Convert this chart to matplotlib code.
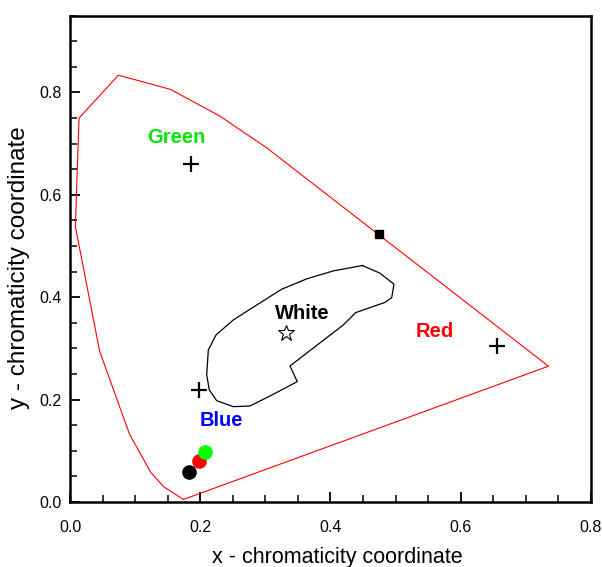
import matplotlib
matplotlib.use('Agg')
import matplotlib.pyplot as plt
from matplotlib.ticker import MultipleLocator

plt.rcParams['font.family'] = ['Liberation Sans', 'DejaVu Sans']

# spectral locus (red outline)
locus_x = [0.1741, 0.1440, 0.1241, 0.0913, 0.0454, 0.0082, 0.0139, 0.0743,
           0.1547, 0.2296, 0.3016, 0.7347, 0.1741]
locus_y = [0.0050, 0.0297, 0.0578, 0.1327, 0.2950, 0.5384, 0.7502, 0.8338,
           0.8059, 0.7543, 0.6923, 0.2653, 0.0050]

# white region contour
white_x = [0.449, 0.476, 0.4975, 0.494, 0.4837, 0.4387, 0.4325, 0.4197,
           0.3378, 0.349, 0.3071, 0.2764, 0.2508, 0.2252, 0.2139, 0.2099,
           0.2124, 0.2242, 0.2508, 0.2764, 0.325, 0.3634, 0.4043, 0.449]
white_y = [0.462, 0.447, 0.4255, 0.3994, 0.390, 0.370, 0.3622, 0.346,
           0.2658, 0.2352, 0.2072, 0.1876, 0.1863, 0.198, 0.219, 0.2482,
           0.2971, 0.3264, 0.3557, 0.3766, 0.4157, 0.4359, 0.4515, 0.462]

# primaries (+)
prim_x = [0.186, 0.198, 0.655]
prim_y = [0.660, 0.219, 0.305]

# white point (star) and black square on locus
star_x, star_y = 0.331, 0.331
square_x, square_y = 0.474, 0.523

# measured dots
dot_x = [0.183, 0.198, 0.207]
dot_y = [0.058, 0.080, 0.097]
dot_colors = ['black', 'red', '#00ff00']

# labels
label_text = ['Green', 'Blue', 'White', 'Red']
label_x = [0.164, 0.232, 0.356, 0.560]
label_y = [0.713, 0.160, 0.369, 0.333]
label_colors = ['#00e600', '#0000ff', 'black', '#ff0000']

fig = plt.figure(figsize=(6.02, 5.67), dpi=100)
ax = fig.add_axes([0.1163, 0.1146, 0.8654, 0.8577])

ax.plot(locus_x, locus_y, color='red', lw=0.8)
ax.plot(white_x, white_y, color='black', lw=0.9)
ax.plot(prim_x, prim_y, ls='none', marker='+', ms=11, mew=1.6, color='black')
ax.plot(star_x, star_y, ls='none', marker='*', ms=12, mew=0.8,
        mfc='white', mec='black')
ax.plot(square_x, square_y, ls='none', marker='s', ms=5.5, color='black')
for x, y, c in zip(dot_x, dot_y, dot_colors):
    ax.plot(x, y, ls='none', marker='o', ms=9.5, color=c)

for t, x, y, c in zip(label_text, label_x, label_y, label_colors):
    ax.text(x, y, t, color=c, fontsize=14.5, fontweight='bold',
            ha='center', va='center')

ax.set_xlim(0, 0.8)
ax.set_ylim(0, 0.95)
ax.xaxis.set_minor_locator(MultipleLocator(0.05))
ax.yaxis.set_minor_locator(MultipleLocator(0.05))
ax.set_xticks([0.0, 0.2, 0.4, 0.6, 0.8])
ax.set_xticklabels(['0.0', '0.2', '0.4', '0.6', '0.8'])
ax.set_yticks([0.0, 0.2, 0.4, 0.6, 0.8])
ax.set_yticklabels(['0.0', '0.2', '0.4', '0.6', '0.8'])

ax.tick_params(which='major', direction='in', length=7, width=1.3,
               labelsize=11.5)
ax.tick_params(which='minor', direction='in', length=5, width=1.1)
ax.tick_params(axis='x', which='major', pad=13)
ax.tick_params(axis='y', which='major', pad=6)
for s in ax.spines.values():
    s.set_linewidth(1.8)

ax.set_xlabel('x - chromaticity coordinate', fontsize=15.5)
ax.set_ylabel('y - chromaticity coordinate', fontsize=17.5)
ax.xaxis.set_label_coords(0.5134, -0.093)
ax.yaxis.set_label_coords(-0.077, 0.482)

fig.savefig('out.png', dpi=100)
